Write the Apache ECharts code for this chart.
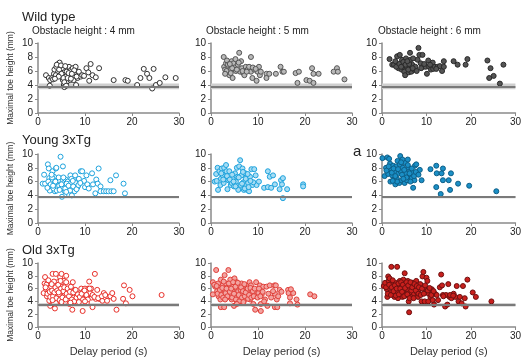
<!DOCTYPE html>
<html>
<head>
<meta charset="utf-8">
<script src="https://cdn.jsdelivr.net/npm/echarts@6/dist/echarts.min.js"></script>
<style>
  html, body { margin: 0; padding: 0; background: #fff; }
  #main { width: 524px; height: 358px; }
</style>
</head>
<body>
<div id="main"></div>
<script>
// delay period (s), maximal toe height (mm)
const wt4 = [[1.7,5.4],[2.3,5.0],[2.6,4.7],[2.5,3.9],[3.0,5.0],[3.4,5.6],[3.5,6.2],[3.9,6.6],[4.3,7.0],[4.6,7.2],[4.3,5.9],[4.8,5.4],[5.1,6.4],[5.3,4.7],[5.5,4.0],[5.6,3.7],[5.9,5.2],[6.1,5.9],[6.2,4.5],[6.6,6.6],[6.8,5.4],[6.9,4.7],[7.1,6.2],[7.3,5.2],[7.4,6.4],[7.6,4.7],[7.9,5.8],[8.0,6.6],[8.1,4.0],[8.4,5.0],[8.5,5.4],[8.7,5.9],[9.1,5.2],[9.4,5.4],[9.8,5.3],[10.3,6.4],[10.7,5.8],[10.9,4.6],[11.2,7.0],[11.6,5.4],[12.3,5.1],[13.0,6.4],[16.1,4.7],[18.6,4.7],[19.1,4.6],[21.1,4.0],[21.8,5.0],[22.5,6.3],[23.2,5.6],[23.7,5.0],[24.3,3.5],[24.6,6.3],[25.1,4.0],[25.9,4.3],[27.1,5.1],[29.3,5.0],
  [3.2,4.8],[3.8,5.4],[4.0,6.9],[4.5,6.2],[4.9,6.8],[5.0,5.6],[5.4,5.0],[5.8,6.7],[6.3,5.0],[6.5,5.7],[7.0,4.9],[7.7,6.1],[8.2,5.2],[5.6,4.4],[4.4,5.2],[6.0,3.9],[7.2,5.6],[3.6,4.9]];
const wt5 = [[2.7,8.0],[2.8,6.6],[3.0,6.2],[3.2,7.1],[3.4,7.5],[3.5,5.9],[3.7,6.6],[3.9,5.4],[4.1,6.2],[4.4,7.4],[4.6,5.0],[4.8,7.1],[5.0,6.5],[5.2,7.7],[5.3,6.0],[5.7,6.9],[6.0,8.6],[6.2,5.9],[6.4,7.4],[6.6,6.4],[6.9,5.7],[7.1,5.4],[7.4,6.6],[7.8,6.2],[8.1,6.6],[8.5,8.0],[8.5,5.9],[8.8,5.0],[9.2,6.2],[9.7,4.6],[9.9,5.9],[10.2,6.6],[10.4,5.4],[10.6,5.9],[11.8,5.6],[11.8,5.0],[12.4,5.6],[13.8,5.6],[14.8,6.6],[15.2,5.9],[15.5,5.9],[18.0,5.7],[18.4,4.3],[18.7,5.9],[20.3,4.7],[21.0,4.6],[21.5,6.4],[21.8,5.6],[21.8,4.3],[22.9,5.6],[26.1,5.9],[26.8,6.4],[27.0,5.9],[28.4,4.8],
  [3.3,6.0],[3.6,6.9],[4.2,5.7],[4.5,6.4],[5.5,6.2],[5.9,7.2],[6.7,6.0],[7.6,5.9],[8.9,6.5],[9.5,6.3],[4.0,7.0],[3.0,5.6]];
const wt6 = [[1.7,7.7],[2.3,6.9],[2.7,6.9],[3.0,7.4],[3.4,8.1],[3.7,6.4],[4.0,8.3],[4.2,7.1],[4.4,6.2],[4.5,7.6],[4.7,6.6],[5.0,5.9],[5.2,5.4],[5.4,7.8],[5.6,6.6],[5.8,7.1],[6.0,5.8],[6.3,8.6],[6.4,7.6],[6.6,5.9],[6.8,6.9],[7.2,6.2],[7.5,6.6],[8.0,7.6],[8.2,9.3],[8.4,8.3],[8.7,7.1],[9.1,8.3],[9.2,6.6],[9.8,6.6],[10.1,5.6],[10.4,7.5],[10.6,6.6],[11.0,6.2],[11.4,7.2],[11.5,6.3],[11.9,6.6],[12.5,6.6],[13.0,6.7],[13.5,6.0],[13.9,6.6],[13.9,7.4],[16.1,7.4],[17.0,6.9],[18.8,6.9],[19.2,7.7],[23.7,7.5],[24.1,5.0],[24.4,6.4],[25.1,5.3],[26.5,4.2],[27.3,6.9],
  [3.2,6.6],[3.9,7.0],[4.8,7.3],[5.3,6.9],[5.9,6.2],[6.1,7.0],[6.9,6.4],[7.8,6.0],[8.8,6.4],[9.5,7.0],[10.8,6.9],[12.2,6.3],[4.3,6.6],[5.7,7.4],[7.0,7.8]];
const young4 = [[1.0,5.7],[1.3,7.0],[2.1,8.5],[2.3,7.9],[2.4,6.5],[2.6,5.2],[2.8,6.2],[2.9,4.8],[3.1,7.5],[3.4,6.7],[3.5,5.8],[3.6,4.6],[3.8,7.9],[4.1,5.2],[4.3,6.2],[4.5,5.4],[4.8,9.6],[4.9,5.0],[5.1,3.8],[5.3,8.2],[5.5,5.8],[5.7,4.6],[5.9,6.3],[6.2,5.2],[6.3,6.0],[6.6,4.1],[6.9,6.9],[7.0,5.8],[7.2,4.0],[7.3,5.0],[7.6,6.4],[7.8,4.6],[8.0,5.8],[8.4,5.2],[8.7,6.4],[9.1,7.5],[9.4,7.5],[9.8,6.1],[10.0,5.2],[10.3,6.9],[10.5,5.6],[10.8,5.0],[11.5,7.2],[11.7,5.6],[12.2,4.3],[12.4,6.3],[12.7,5.7],[12.9,7.9],[13.3,5.3],[13.3,4.6],[14.0,4.6],[14.5,4.6],[15.0,4.6],[15.4,6.2],[15.6,4.6],[16.1,4.6],[16.6,6.9],[18.2,5.7],[18.5,4.3],
  [1.5,5.7],[2.2,6.0],[2.5,4.7],[2.7,5.6],[3.0,6.6],[3.3,5.0],[3.7,6.0],[4.0,4.7],[4.4,6.6],[4.6,4.8],[5.0,5.6],[5.4,6.6],[5.8,5.0],[6.1,5.7],[6.5,5.4],[6.8,4.7],[7.1,6.4],[7.5,5.3],[7.9,6.9],[8.2,4.9],[8.6,5.5],[9.0,5.8],[3.9,8.0],[2.9,7.0],[3.2,5.4],[6.0,4.5],[7.4,6.1],[2.0,5.1]];
const young5 = [[0.8,6.0],[1.1,7.1],[1.4,8.0],[1.5,4.8],[1.8,7.5],[2.0,5.5],[2.1,6.4],[2.3,7.9],[2.5,6.9],[2.7,5.8],[2.8,8.0],[3.0,6.4],[3.2,8.4],[3.3,7.5],[3.5,4.9],[3.7,6.2],[3.9,7.5],[4.2,5.5],[4.4,5.8],[4.6,6.4],[4.9,5.3],[5.1,7.2],[5.3,6.0],[5.5,8.0],[5.6,6.7],[5.8,4.8],[6.0,8.2],[6.2,9.1],[6.3,5.5],[6.5,6.9],[6.7,7.9],[6.9,5.9],[7.0,4.8],[7.3,7.2],[7.4,6.4],[7.5,5.5],[7.7,4.8],[7.9,5.8],[8.1,4.6],[8.3,6.7],[8.6,7.8],[8.8,5.5],[9.2,7.8],[9.5,6.9],[9.7,5.5],[10.2,6.0],[11.3,5.1],[12.1,7.5],[12.1,5.2],[12.5,6.7],[12.8,5.1],[13.2,6.9],[13.6,5.6],[14.6,4.9],[14.9,6.2],[15.1,5.6],[15.3,6.5],[15.3,3.6],[16.2,4.9],[19.6,5.6],[19.6,5.3],
  [1.2,6.1],[2.2,7.2],[3.4,6.8],[4.0,6.3],[4.8,6.0],[5.2,5.3],[5.9,6.6],[6.6,5.7],[7.2,5.0],[7.8,7.1],[8.0,5.2],[9.0,5.9],[4.5,7.0],[2.6,6.3],[6.8,7.4],[8.4,6.1]];
const young6 = [[0.1,9.4],[0.6,6.8],[0.9,8.0],[1.2,9.5],[1.4,7.1],[1.6,9.3],[1.8,8.6],[1.9,6.0],[2.1,7.7],[2.3,6.9],[2.5,8.3],[2.7,6.3],[2.8,7.3],[3.0,5.6],[3.2,8.2],[3.3,6.5],[3.5,9.0],[3.7,7.2],[3.9,5.8],[4.0,8.5],[4.1,9.7],[4.2,7.5],[4.4,6.2],[4.6,9.2],[4.7,8.0],[4.9,6.8],[5.1,5.8],[5.3,8.7],[5.4,7.2],[5.6,6.2],[5.8,9.2],[6.0,8.0],[6.1,6.8],[6.3,7.5],[6.5,7.0],[6.7,6.5],[6.9,7.3],[7.0,5.1],[7.3,6.2],[7.4,8.3],[7.7,8.5],[7.9,7.2],[8.5,7.7],[8.9,6.2],[10.9,7.8],[12.2,8.3],[12.3,7.2],[12.2,5.2],[13.2,4.2],[13.4,7.2],[13.7,7.9],[13.7,6.2],[15.0,6.2],[15.5,7.2],[15.3,4.8],[17.1,5.7],[19.6,5.4],[25.7,4.6],
  [1.0,7.6],[1.5,8.2],[2.2,7.3],[2.6,7.9],[3.0,6.8],[3.6,7.8],[4.3,8.8],[4.5,7.0],[5.0,7.7],[5.5,6.6],[5.8,8.4],[6.2,7.2],[6.7,7.9],[7.2,6.8],[3.4,6.0],[2.4,6.1],[4.8,6.4],[6.4,6.0],[7.6,7.4],[8.2,7.0]];
const old4 = [[1.2,5.3],[1.4,6.8],[1.5,7.8],[1.7,5.9],[1.9,4.8],[2.1,6.3],[2.2,5.6],[2.4,4.1],[2.6,3.3],[2.7,6.0],[2.9,5.1],[3.1,8.3],[3.3,6.5],[3.4,4.4],[3.6,2.9],[3.8,8.3],[3.8,6.0],[4.0,5.1],[4.2,7.0],[4.3,4.6],[4.4,5.8],[4.7,7.8],[4.8,3.8],[5.0,8.3],[5.1,6.3],[5.3,5.3],[5.5,7.2],[5.7,4.9],[5.8,5.8],[6.0,8.0],[6.2,6.5],[6.4,4.4],[6.5,5.6],[6.7,3.6],[6.9,6.0],[7.1,5.1],[7.3,2.7],[7.4,7.0],[7.6,4.6],[7.8,5.8],[8.1,3.8],[8.3,5.3],[8.6,4.9],[8.8,4.4],[9.2,6.0],[9.5,2.5],[9.7,5.6],[10.0,6.0],[10.2,4.9],[10.4,3.8],[10.7,6.0],[10.9,7.1],[11.1,5.3],[11.3,6.0],[11.4,4.6],[11.6,3.1],[12.1,8.3],[12.3,4.4],[12.6,5.8],[13.0,4.4],[13.3,4.4],[13.7,4.1],[14.0,5.3],[14.4,4.6],[14.7,4.1],[15.4,4.8],[15.8,5.3],[16.1,4.4],[16.7,2.7],[18.1,4.4],[18.3,6.5],[18.7,3.7],[19.5,5.8],[20.1,4.8],[26.3,5.0],
  [1.8,6.6],[2.0,5.2],[2.3,6.0],[2.5,5.5],[2.6,4.7],[2.8,6.3],[3.0,5.7],[3.2,4.8],[3.5,5.4],[3.7,6.2],[3.9,4.5],[4.1,5.7],[4.3,6.6],[4.5,5.1],[4.6,4.2],[4.9,6.0],[5.2,4.6],[5.4,5.6],[5.6,6.2],[5.9,4.3],[6.1,5.2],[6.3,6.0],[6.6,4.8],[6.8,5.5],[7.0,6.3],[7.2,4.3],[7.5,5.4],[7.7,4.0],[8.0,5.8],[8.2,4.6],[8.5,5.1],[8.9,4.7],[9.3,5.2],[9.6,4.3],[9.9,5.7],[10.3,5.0],[10.6,4.3],[11.0,6.0],[11.6,5.0],[12.0,4.7],[12.8,4.5],[13.6,4.8],[14.3,5.0],[3.4,7.1],[2.2,7.3],[4.8,7.2],[6.0,7.0],[5.0,3.9],[6.9,3.8],[3.1,4.2],[1.6,6.2],[2.9,6.7],[4.4,5.4],[8.7,3.9],[10.0,4.0]];
const old5 = [[0.4,7.0],[0.4,5.1],[0.9,6.3],[1.1,8.9],[1.3,5.6],[1.5,6.8],[1.6,4.8],[1.8,6.1],[2.0,4.3],[2.1,7.4],[2.1,3.1],[2.3,5.3],[2.5,6.5],[2.8,3.1],[2.9,8.1],[3.0,5.6],[3.2,6.8],[3.4,4.6],[3.6,6.1],[3.7,8.9],[3.9,5.1],[4.1,7.4],[4.2,6.3],[4.4,4.3],[4.6,5.6],[4.8,6.5],[4.9,3.3],[5.0,7.6],[5.1,4.8],[5.4,6.1],[5.5,7.0],[5.6,3.8],[5.8,5.6],[6.1,6.5],[6.2,4.6],[6.3,5.8],[6.5,6.8],[6.7,5.1],[6.9,6.1],[7.0,4.1],[7.3,5.6],[7.5,6.5],[7.6,4.8],[8.0,5.8],[8.2,7.0],[8.3,4.3],[8.5,6.5],[8.7,5.3],[9.0,3.6],[9.4,2.7],[9.6,7.0],[9.7,5.6],[10.1,5.3],[10.4,6.5],[10.6,3.6],[10.6,2.5],[10.8,5.1],[11.1,6.3],[11.5,4.3],[11.8,6.3],[12.0,3.3],[12.5,6.5],[13.5,6.5],[13.6,5.2],[13.6,3.1],[13.8,6.5],[14.0,4.3],[14.1,3.1],[14.6,5.8],[16.4,5.8],[16.5,5.3],[16.8,4.6],[16.8,3.7],[17.5,5.3],[18.2,4.3],[18.4,3.5],[21.1,5.1],[22.0,4.8],
  [0.7,6.6],[1.2,6.4],[1.4,5.2],[1.9,5.8],[2.2,5.0],[2.4,6.1],[2.6,4.6],[2.7,7.1],[3.1,5.3],[3.3,6.0],[3.5,4.8],[3.8,6.8],[4.0,5.5],[4.3,6.0],[4.5,4.6],[4.7,7.0],[4.9,5.2],[5.2,6.3],[5.3,4.3],[5.7,6.9],[5.9,5.0],[6.0,4.0],[6.4,6.2],[6.6,4.6],[6.8,5.6],[7.1,6.7],[7.2,4.8],[7.4,5.4],[7.8,6.0],[7.9,4.4],[8.1,5.0],[8.4,6.1],[8.6,4.6],[8.9,5.6],[9.1,4.8],[9.3,6.0],[9.9,4.6],[10.2,6.0],[10.5,4.8],[11.0,5.5],[11.3,4.0],[12.2,5.2],[12.8,4.6],[13.2,5.6],[14.3,4.8],[15.0,5.5],[17.0,5.9],[3.0,4.3],[5.5,3.6],[6.9,3.9]];
const old6 = [[0.4,6.4],[0.7,6.9],[1.1,5.9],[1.2,4.7],[1.4,7.9],[1.5,7.2],[1.8,5.4],[1.9,6.4],[2.1,9.4],[2.3,6.9],[2.5,5.2],[2.7,5.9],[2.8,4.7],[3.0,6.9],[3.4,9.4],[3.5,5.4],[3.6,4.5],[3.9,6.4],[4.0,7.2],[4.2,5.2],[4.4,6.2],[4.6,4.7],[4.8,7.4],[4.9,5.7],[5.1,8.4],[5.3,6.7],[5.4,5.0],[5.6,5.9],[5.8,7.2],[6.0,4.0],[6.1,2.3],[6.3,5.4],[6.5,6.4],[6.7,4.7],[6.9,6.9],[7.0,5.7],[7.2,5.2],[7.4,6.2],[7.7,7.2],[7.9,5.4],[8.1,4.7],[8.4,5.9],[8.6,6.7],[8.9,4.0],[9.1,7.9],[9.3,8.6],[9.5,6.2],[9.6,4.0],[9.8,5.4],[10.0,7.7],[10.2,7.2],[10.4,4.0],[10.5,5.2],[10.9,4.7],[11.2,5.9],[11.4,4.2],[11.7,3.5],[11.9,5.2],[12.6,4.2],[13.0,6.2],[13.3,8.2],[13.5,6.5],[13.7,5.0],[14.2,3.2],[14.4,5.0],[14.7,3.5],[14.9,6.7],[15.2,4.7],[15.6,4.5],[16.1,5.2],[16.5,4.7],[16.8,6.4],[17.2,4.0],[17.5,4.7],[17.9,3.7],[18.2,6.4],[18.6,4.5],[18.8,3.2],[19.2,7.4],[20.4,5.4],[21.1,4.7],[24.6,4.0],
  [0.9,6.2],[1.3,5.2],[1.6,6.6],[1.7,7.6],[2.0,5.0],[2.2,6.2],[2.4,7.3],[2.6,5.6],[2.9,6.5],[3.1,4.9],[3.3,6.0],[3.7,6.8],[3.8,5.1],[4.1,6.0],[4.3,7.0],[4.5,5.5],[4.7,6.6],[5.0,4.8],[5.2,6.1],[5.5,7.0],[5.7,5.1],[5.9,6.5],[6.2,4.5],[6.4,7.0],[6.6,5.7],[6.8,6.2],[7.1,4.5],[7.3,6.7],[7.6,5.7],[7.8,6.4],[8.2,5.2],[8.3,6.2],[8.7,5.0],[9.0,6.0],[9.4,5.2],[9.7,6.5],[10.3,5.7],[10.7,6.1],[11.1,5.0],[11.6,5.6],[12.3,5.0],[13.8,4.8],[15.3,5.0],[16.0,4.9]];

const groups = ['Wild type', 'Young 3xTg', 'Old 3xTg'];
const heights = ['Obstacle height : 4 mm', 'Obstacle height : 5 mm', 'Obstacle height : 6 mm'];
const panels = [[wt4, wt5, wt6], [young4, young5, young6], [old4, old5, old6]];
// threshold line and its band, per group (mm)
const threshold = [3.8, 3.75, 3.45];
const bandLow = [3.4, 3.6, 3.2];
const bandHigh = [4.2, 3.9, 3.7];
const yTicks = [0, 10, 2];
const xTicks = [0, 30, 10];

const markerFill = [
  ['#ffffff', '#b9b9b9', '#555555'],
  ['#ffffff', '#a6dcf4', '#1b8fc6'],
  ['#ffffff', '#f3a3a0', '#c8201d']
];
const markerEdge = [
  ['#333333', '#555555', '#2a2a2a'],
  ['#1ea3dd', '#1ea3dd', '#0d5f88'],
  ['#e8302a', '#e0403a', '#6e1010']
];
const bandColor = ['#cfcfcf', '#bdbdbd', '#c4c4c4'];

const colLeft = [38, 211, 382];
const rowTop = [43, 154, 263];
const rowH = [70, 69, 68];
const gridW = 141;
const font = 'Arial, "Liberation Sans", sans-serif';

const grids = [], xAxes = [], yAxes = [], series = [];
for (let r = 0; r < 3; r++) {
  for (let c = 0; c < 3; c++) {
    const i = r * 3 + c;
    grids.push({ left: colLeft[c], top: rowTop[r], width: gridW, height: rowH[r] });
    xAxes.push({
      gridIndex: i, type: 'value', min: xTicks[0], max: xTicks[1], interval: xTicks[2],
      axisLine: { lineStyle: { color: '#8a8a8a', width: 1.5 } },
      axisTick: { length: 3, lineStyle: { color: '#8a8a8a' } },
      axisLabel: { fontSize: 10, color: '#222', margin: 4, fontFamily: font },
      splitLine: { show: false },
      name: r === 2 ? 'Delay period (s)' : '',
      nameLocation: 'middle', nameGap: 19,
      nameTextStyle: { fontSize: 11, color: '#333', fontFamily: font }
    });
    yAxes.push({
      gridIndex: i, type: 'value', min: yTicks[0], max: yTicks[1], interval: yTicks[2],
      axisLine: { show: true, lineStyle: { color: '#8a8a8a', width: 1.5 } },
      axisTick: { show: true, length: 3, lineStyle: { color: '#8a8a8a' } },
      axisLabel: { fontSize: 10, color: '#222', margin: 5, fontFamily: font },
      splitLine: { show: false },
      name: c === 0 ? 'Maximal toe height (mm)' : '',
      nameLocation: 'middle', nameGap: 23,
      nameTextStyle: { fontSize: 8.5, color: '#333', fontFamily: font }
    });
    // threshold band + line, kept under the points
    series.push({
      type: 'line', xAxisIndex: i, yAxisIndex: i, data: [], z: 1, silent: true,
      markArea: {
        silent: true,
        itemStyle: { color: bandColor[r] },
        data: [[{ yAxis: bandLow[r] }, { yAxis: bandHigh[r] }]]
      },
      markLine: {
        silent: true, symbol: 'none', label: { show: false },
        lineStyle: { color: '#7a7a7a', width: 2, type: 'solid' },
        data: [{ yAxis: threshold[r] }]
      }
    });
    series.push({
      type: 'scatter', xAxisIndex: i, yAxisIndex: i, z: 3,
      symbol: 'circle', symbolSize: 5,
      itemStyle: { color: markerFill[r][c], borderColor: markerEdge[r][c], borderWidth: 1, opacity: 1 },
      data: panels[r][c]
    });
  }
}

const titleAt = (text, left, top, size) => ({
  type: 'text', left: left, top: top,
  style: { text: text, fontSize: size, fill: '#222', fontFamily: font }
});

const chart = echarts.init(document.getElementById('main'));
chart.setOption({
  animation: false,
  backgroundColor: '#fff',
  grid: grids,
  xAxis: xAxes,
  yAxis: yAxes,
  series: series,
  graphic: [
    titleAt(groups[0], 22, 11, 13),
    titleAt(heights[0], 32, 26, 10),
    titleAt(heights[1], 206, 26, 10),
    titleAt(heights[2], 378, 26, 10),
    titleAt(groups[1], 22, 134, 13),
    titleAt(groups[2], 22, 244, 13),
    titleAt('a', 353, 144, 15)
  ]
});
</script>
</body>
</html>
